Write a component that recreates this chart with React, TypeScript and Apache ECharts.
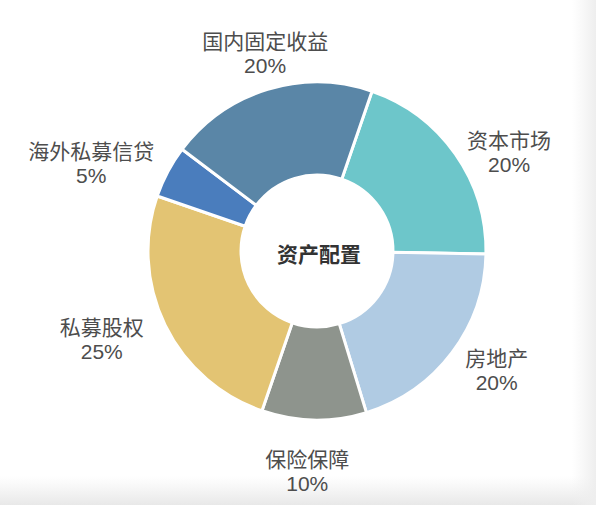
import React, { useEffect, useRef } from "react";
import * as echarts from "echarts";

// ---- data ----
const categories = ["资本市场", "房地产", "保险保障", "私募股权", "海外私募信贷", "国内固定收益"];
const shares = [20, 20, 10, 25, 5, 20];
const centerTitle = "资产配置";

// ---- styles ----
const colors = ["#6dc6ca", "#b0cbe3", "#8e948d", "#e3c473", "#4a7dbd", "#5a86a7"];
const CX = 317;
const CY = 251;
const R_IN = 76;
const R_OUT = 169;
const START_ANGLE = 71;
const LABEL_DIST = 215;
const LABEL_NUDGE: number[][] = [
  [16, 25],
  [8, -10],
  [-6, 6],
  [-22, -6],
  [-36, 13],
  [11, 8],
];
const FONT = "'Liberation Sans', 'Noto Sans CJK SC', sans-serif";
const TEXT_COLOR = "#4d4d4d";

export default function App() {
  const ref = useRef<HTMLDivElement>(null);

  useEffect(() => {
    if (!ref.current) return;
    const chart = echarts.init(ref.current, undefined, { renderer: "svg" });
    const total = shares.reduce((a, b) => a + b, 0);

    const fallbackDir = (i: number) => {
      let before = 0;
      for (let k = 0; k < i; k++) before += shares[k];
      const mid = START_ANGLE - ((before + shares[i] / 2) / total) * 360;
      const rad = (mid * Math.PI) / 180;
      return [Math.cos(rad), -Math.sin(rad)];
    };

    chart.setOption({
      animation: false,
      backgroundColor: "#ffffff",
      graphic: [
        {
          type: "rect",
          z: -10,
          silent: true,
          shape: { x: 0, y: 476, width: 596, height: 29 },
          style: {
            fill: new echarts.graphic.LinearGradient(0, 0, 0, 1, [
              { offset: 0, color: "rgba(235,235,235,0)" },
              { offset: 1, color: "rgba(232,232,232,1)" },
            ]),
          },
        },
        {
          type: "rect",
          z: -10,
          silent: true,
          shape: { x: 572, y: 0, width: 24, height: 505 },
          style: {
            fill: new echarts.graphic.LinearGradient(0, 0, 1, 0, [
              { offset: 0, color: "rgba(240,240,240,0)" },
              { offset: 1, color: "rgba(238,238,238,1)" },
            ]),
          },
        },
        {
          type: "text",
          z: 10,
          x: CX + 2,
          y: CY + 3,
          style: {
            text: centerTitle,
            fill: "#333333",
            font: `bold 21px ${FONT}`,
            textAlign: "center",
            textVerticalAlign: "middle",
          },
        },
      ],
      series: [
        {
          type: "pie",
          center: [CX, CY],
          radius: [R_IN, R_OUT],
          startAngle: START_ANGLE,
          clockwise: true,
          avoidLabelOverlap: false,
          itemStyle: { borderColor: "#ffffff", borderWidth: 3 },
          emphasis: { disabled: true },
          label: {
            show: true,
            position: "outside",
            formatter: (p: any) => `{n|${p.name}}\n{n|${Math.round(p.percent)}%}`,
            rich: {
              n: {
                align: "center",
                fontSize: 21,
                lineHeight: 24,
                color: TEXT_COLOR,
                fontFamily: FONT,
              },
            },
          },
          labelLine: { show: true, length: 10, length2: 0, lineStyle: { opacity: 0 } },
          labelLayout: (params: any) => {
            const i = params.dataIndex;
            const pts = params.labelLinePoints;
            let x: number;
            let y: number;
            if (pts && pts.length >= 2) {
              const dx = pts[1][0] - pts[0][0];
              const dy = pts[1][1] - pts[0][1];
              const len = Math.hypot(dx, dy) || 1;
              x = pts[0][0] + (dx / len) * (LABEL_DIST - R_OUT);
              y = pts[0][1] + (dy / len) * (LABEL_DIST - R_OUT);
            } else {
              const [ux, uy] = fallbackDir(i);
              x = CX + ux * LABEL_DIST;
              y = CY + uy * LABEL_DIST;
            }
            const n = LABEL_NUDGE[i] || [0, 0];
            return { x: x + n[0], y: y + n[1], align: "center", verticalAlign: "middle" };
          },
          data: categories.map((name, i) => ({
            name,
            value: shares[i],
            itemStyle: { color: colors[i] },
          })),
        },
      ],
    });

    return () => chart.dispose();
  }, []);

  return (
    <div
      ref={ref}
      style={{ position: "fixed", left: 0, top: 0, width: 596, height: 505 }}
    />
  );
}
